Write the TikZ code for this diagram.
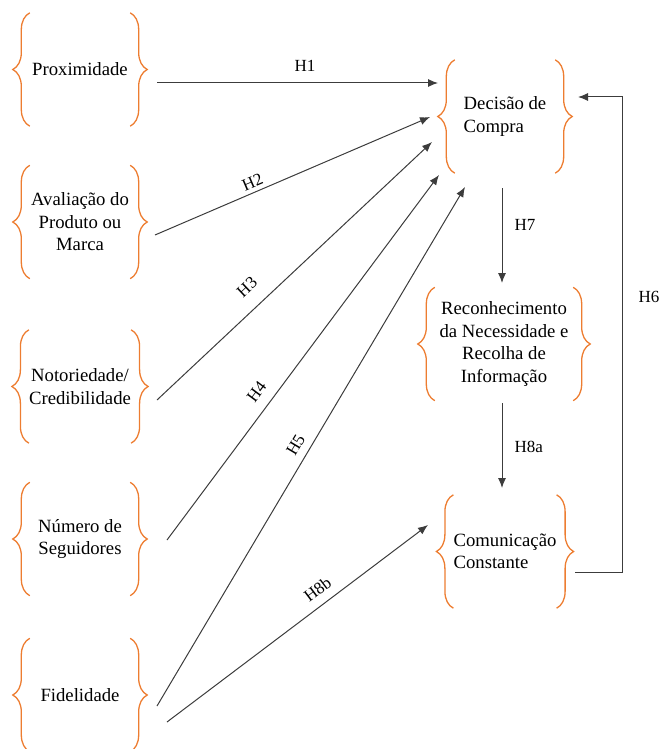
\documentclass[tikz,border=0pt]{standalone}
\usepackage{fontspec}
\setmainfont{Liberation Serif}
\usetikzlibrary{arrows.meta,decorations.pathreplacing}
\definecolor{braceorange}{RGB}{237,125,49}
\definecolor{linegray}{RGB}{60,60,60}
\tikzset{
  boxnode/.style={minimum width=100pt, minimum height=113pt, inner sep=0pt,
    font=\fontsize{18.7}{22.5}\selectfont, align=center},
  widebox/.style={boxnode, minimum width=138pt},
  leftbox/.style={boxnode, align=left},
  bracedraw/.style={draw=braceorange, line width=1.3pt, decorate,
    decoration={brace, amplitude=17pt}},
  conn/.style={draw=linegray, line width=1pt, -{Latex[length=10pt,width=8pt]}},
  hlabel/.style={font=\fontsize{17}{19}\selectfont, inner sep=0pt},
}
\newcommand\bracepair[1]{%
  \draw[bracedraw] (#1.south west) -- (#1.north west);
  \draw[bracedraw] (#1.north east) -- (#1.south east);
}
\begin{document}
\begin{tikzpicture}[x=1pt,y=-1pt]
\useasboundingbox (0,0) rectangle (660,749);
% left column
\node[boxnode] (prox) at (80,69.5) {Proximidade};
\node[boxnode] (aval) at (80,222) {Avaliação do\\Produto ou\\Marca};
\node[boxnode] (noto) at (80,386.5) {Notoriedade/\\Credibilidade};
\node[boxnode] (num) at (80,539) {Número de\\Seguidores};
\node[boxnode] (fid) at (80,695) {Fidelidade};
% right column
\node[leftbox] (dec) at (505,116.5) {Decisão de\\Compra};
\node[widebox] (rec) at (504,344) {Reconhecimento\\da Necessidade e\\Recolha de\\Informação};
\node[leftbox] (com) at (505,551.5) {Comunicação\\Constante};
\foreach \n in {prox,aval,noto,num,fid,dec,rec,com} {\bracepair{\n}}
% connector end points
\coordinate (h1s) at (157,83);  \coordinate (h1e) at (438,83);
\coordinate (h2s) at (155,235); \coordinate (h2e) at (430,117);
\coordinate (h3s) at (157,400); \coordinate (h3e) at (432,142);
\coordinate (h4s) at (167,540); \coordinate (h4e) at (439,175);
\coordinate (h5s) at (157,706); \coordinate (h5e) at (465,187);
\coordinate (h8bs) at (167,722); \coordinate (h8be) at (428,525);
\coordinate (h7s) at (502,188); \coordinate (h7e) at (502,283);
\coordinate (h8as) at (502,403); \coordinate (h8ae) at (502,488);
\coordinate (h6s) at (575,572); \coordinate (h6e) at (578,97);
% connectors
\draw[conn] (h1s) -- node[hlabel, pos=0.527, above=10.5pt] {H1} (h1e);
\draw[conn] (h2s) -- node[hlabel, pos=0.368, sloped, above=3.7pt] {H2} (h2e);
\draw[conn] (h3s) -- node[hlabel, pos=0.379, sloped, above=14.7pt] {H3} (h3e);
\draw[conn] (h4s) -- node[hlabel, pos=0.379, sloped, above=10.7pt] {H4} (h4e);
\draw[conn] (h5s) -- node[hlabel, pos=0.489, sloped, above=7.7pt] {H5} (h5e);
\draw[conn] (h8bs) -- node[hlabel, pos=0.612, sloped, above=8.7pt] {H8b} (h8be);
\draw[conn] (h7s) -- node[hlabel, pos=0.39, right=12pt] {H7} (h7e);
\draw[conn] (h8as) -- node[hlabel, pos=0.52, right=12pt] {H8a} (h8ae);
\draw[conn] (h6s) -- ++(47,0) |- node[hlabel, pos=0.29, right=16pt] {H6} (h6e);
\end{tikzpicture}
\end{document}
